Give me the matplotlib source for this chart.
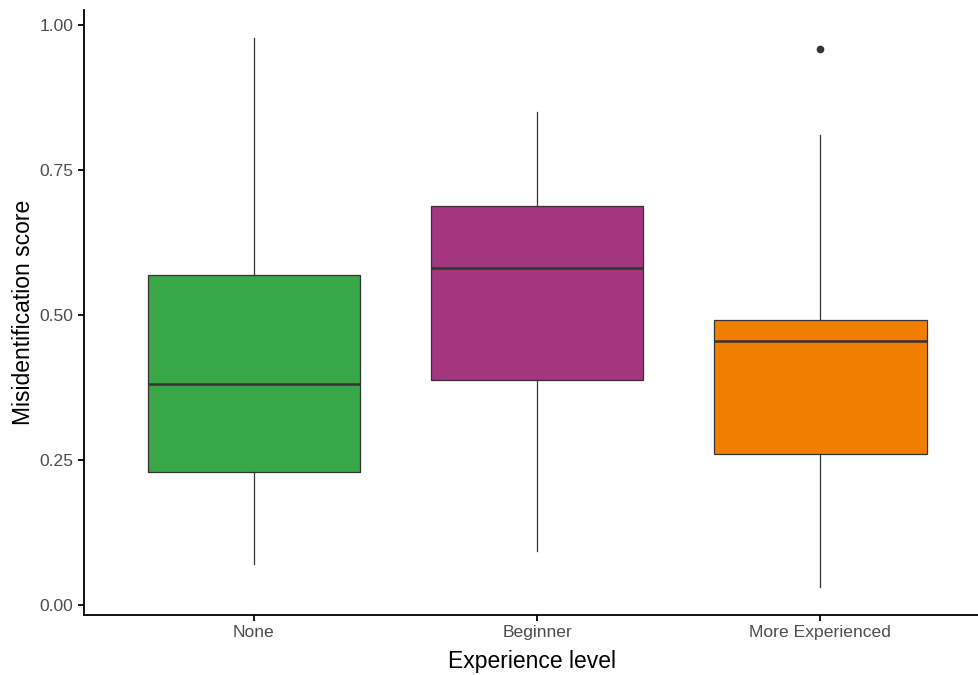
import matplotlib.pyplot as plt

# experience groups and box statistics for the misidentification score
levels = ["None", "Beginner", "More Experienced"]
whisker_lo = [0.071, 0.093, 0.031]
q1 = [0.229, 0.388, 0.261]
median = [0.381, 0.581, 0.455]
q3 = [0.569, 0.688, 0.491]
whisker_hi = [0.978, 0.850, 0.810]
outliers = [[], [], [0.959]]
colors = ["#38A846", "#A4367F", "#F07F00"]

plt.rcParams["font.family"] = ["Liberation Sans", "DejaVu Sans"]

fig = plt.figure(figsize=(9.79, 6.75), dpi=100)
ax = fig.add_axes([84 / 979, 60 / 675, (979 - 84) / 979, (615 - 10) / 675])

stats = []
for i, name in enumerate(levels):
    stats.append(dict(label=name, whislo=whisker_lo[i], q1=q1[i], med=median[i],
                      q3=q3[i], whishi=whisker_hi[i], fliers=outliers[i]))

bp = ax.bxp(stats, positions=[1, 2, 3], widths=0.75, patch_artist=True,
            showcaps=False,
            boxprops=dict(edgecolor="#333333", linewidth=0.9),
            medianprops=dict(color="#333333", linewidth=1.8),
            whiskerprops=dict(color="#333333", linewidth=0.9),
            flierprops=dict(marker="o", markerfacecolor="#333333",
                            markeredgecolor="#333333", markersize=4.5))
for patch, c in zip(bp["boxes"], colors):
    patch.set_facecolor(c)

ax.set_xlim(0.4, 3.56)
ax.set_ylim(-0.017, 1.026)
ax.set_yticks([0, 0.25, 0.5, 0.75, 1.0])
ax.set_yticklabels(["0.00", "0.25", "0.50", "0.75", "1.00"])

for side in ["top", "right"]:
    ax.spines[side].set_visible(False)
for side in ["left", "bottom"]:
    ax.spines[side].set_linewidth(1.3)
    ax.spines[side].set_color("black")

ax.tick_params(axis="both", colors="black", width=1.3, length=4,
               labelsize=12.6, labelcolor="#4D4D4D")
ax.set_xlabel("Experience level", fontsize=16.5, labelpad=7)
ax.set_ylabel("Misidentification score", fontsize=16.5, labelpad=3)

fig.savefig("out.png", dpi=100)
